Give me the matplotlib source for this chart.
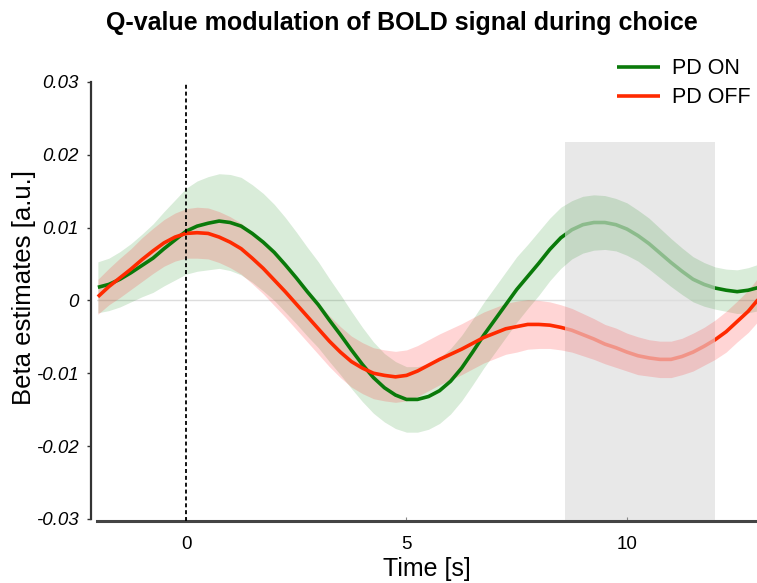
import matplotlib
matplotlib.use("Agg")
import matplotlib.pyplot as plt
from matplotlib.patches import Rectangle
import numpy as np

plt.rcParams['font.family'] = ['Liberation Sans', 'DejaVu Sans']

# ---- data (every 0.25 s) ----
time_s = [-2.0, -1.75, -1.5, -1.25, -1.0, -0.75, -0.5, -0.25,
          0.0, 0.25, 0.5, 0.75, 1.0, 1.25, 1.5, 1.75,
          2.0, 2.25, 2.5, 2.75, 3.0, 3.25, 3.5, 3.75,
          4.0, 4.25, 4.5, 4.75, 5.0, 5.25, 5.5, 5.75,
          6.0, 6.25, 6.5, 6.75, 7.0, 7.25, 7.5, 7.75,
          8.0, 8.25, 8.5, 8.75, 9.0, 9.25, 9.5, 9.75,
          10.0, 10.25, 10.5, 10.75, 11.0, 11.25, 11.5, 11.75,
          12.0, 12.25, 12.5, 12.75, 13.0]
pd_on = [0.0018, 0.0022, 0.0029, 0.0038, 0.0048, 0.0058, 0.0071, 0.0083,
         0.0095, 0.0102, 0.0106, 0.0109, 0.0107, 0.0102, 0.0092, 0.0080,
         0.0066, 0.0049, 0.0031, 0.0012, -0.0006, -0.0027, -0.0047, -0.0068,
         -0.0088, -0.0106, -0.0120, -0.0130, -0.0136, -0.0136, -0.0132, -0.0124,
         -0.0111, -0.0093, -0.0071, -0.0048, -0.0027, -0.0006, 0.0015, 0.0033,
         0.0051, 0.0070, 0.0086, 0.0097, 0.0104, 0.0107, 0.0107, 0.0104,
         0.0098, 0.0089, 0.0078, 0.0065, 0.0052, 0.0040, 0.0029, 0.0022,
         0.0017, 0.0014, 0.0012, 0.0014, 0.0018]
pd_on_err = [0.0035, 0.0036, 0.0038, 0.0040, 0.0043, 0.0047, 0.0051, 0.0055,
             0.0059, 0.0062, 0.0064, 0.0065, 0.0066, 0.0067, 0.0067, 0.0067,
             0.0066, 0.0065, 0.0063, 0.0061, 0.0059, 0.0057, 0.0055, 0.0053,
             0.0051, 0.0049, 0.0047, 0.0046, 0.0045, 0.0045, 0.0045, 0.0045,
             0.0045, 0.0045, 0.0045, 0.0045, 0.0045, 0.0045, 0.0045, 0.0044,
             0.0044, 0.0043, 0.0042, 0.0040, 0.0039, 0.0038, 0.0037, 0.0036,
             0.0036, 0.0035, 0.0035, 0.0034, 0.0033, 0.0032, 0.0031, 0.0030,
             0.0029, 0.0029, 0.0030, 0.0031, 0.0032]
pd_off = [0.0005, 0.0019, 0.0031, 0.0043, 0.0056, 0.0068, 0.0079, 0.0087,
          0.0092, 0.0093, 0.0092, 0.0087, 0.0080, 0.0071, 0.0058, 0.0044,
          0.0028, 0.0012, -0.0005, -0.0022, -0.0039, -0.0056, -0.0071, -0.0084,
          -0.0093, -0.0100, -0.0103, -0.0105, -0.0103, -0.0097, -0.0089, -0.0081,
          -0.0074, -0.0067, -0.0059, -0.0051, -0.0045, -0.0039, -0.0036, -0.0033,
          -0.0033, -0.0034, -0.0037, -0.0041, -0.0047, -0.0053, -0.0060, -0.0065,
          -0.0071, -0.0076, -0.0079, -0.0081, -0.0081, -0.0077, -0.0071, -0.0063,
          -0.0054, -0.0043, -0.0029, -0.0015, 0.0003]
pd_off_err = [0.0024, 0.0025, 0.0027, 0.0028, 0.0030, 0.0031, 0.0032, 0.0033,
              0.0034, 0.0035, 0.0035, 0.0035, 0.0035, 0.0035, 0.0035, 0.0035,
              0.0035, 0.0035, 0.0035, 0.0035, 0.0035, 0.0035, 0.0035, 0.0035,
              0.0035, 0.0035, 0.0035, 0.0035, 0.0035, 0.0035, 0.0035, 0.0035,
              0.0035, 0.0035, 0.0035, 0.0035, 0.0035, 0.0035, 0.0035, 0.0034,
              0.0033, 0.0032, 0.0031, 0.0030, 0.0029, 0.0028, 0.0027, 0.0027,
              0.0026, 0.0026, 0.0025, 0.0025, 0.0025, 0.0025, 0.0026, 0.0026,
              0.0027, 0.0028, 0.0028, 0.0029, 0.0030]
window = [8.6, 12.0]
window_top = 0.0218
series_labels = ['PD ON', 'PD OFF']
y_ticks = [0.03, 0.02, 0.01, 0, -0.01, -0.02, -0.03]
y_ticklabels = ['0.03', '0.02', '0.01', '0', '-0.01', '-0.02', '-0.03']
x_ticks = [0, 5, 10]

green = '#0a7a0a'
red = '#ff2a00'

fig = plt.figure(figsize=(7.57, 5.83), dpi=100)
ax = fig.add_axes([97/757, 62/583, 660/757, 439/583])

t = np.array(time_s)
on = np.array(pd_on); on_e = np.array(pd_on_err)
off = np.array(pd_off); off_e = np.array(pd_off_err)

# grey analysis window
ax.add_patch(Rectangle((window[0], -0.0303), window[1] - window[0], window_top + 0.0303,
                       facecolor='#e8e8e8', edgecolor='none', zorder=0))
ax.axhline(0, color='#dddddd', lw=1, zorder=0.5)

ax.fill_between(t, on - on_e, on + on_e, color='#008000', alpha=0.15, lw=0, zorder=1)
ax.fill_between(t, off - off_e, off + off_e, color='#ff3030', alpha=0.2, lw=0, zorder=1)

def draw(y, color, label, z):
    out1 = ax.plot(t, y, color=color, lw=2.6, zorder=z, label=label, solid_capstyle='butt')[0]
    out2 = ax.plot(t, y, color=color, lw=2.6, zorder=z, solid_capstyle='butt')[0]
    inn = ax.plot(t, y, color=color, lw=2.6, alpha=0.3, zorder=z, solid_capstyle='butt')[0]
    out1.set_clip_path(Rectangle((-10, -1), window[0] + 10, 2, transform=ax.transData))
    out2.set_clip_path(Rectangle((window[1], -1), 20, 2, transform=ax.transData))
    inn.set_clip_path(Rectangle((window[0], -1), window[1] - window[0], 2, transform=ax.transData))

draw(on, green, series_labels[0], 3)
draw(off, red, series_labels[1], 4)

ax.axvline(0, color='black', lw=1.3, ls=(0, (2.2, 1.6)), zorder=5)

ax.set_xlim(-2.02, 12.95)
ax.set_ylim(-0.0303, 0.03)

for s in ['top', 'right']:
    ax.spines[s].set_visible(False)
ax.spines['left'].set_position(('outward', 4))
ax.spines['left'].set_bounds(-0.03, 0.03)
ax.spines['left'].set_linewidth(1.6)
ax.spines['left'].set_color('#333333')
ax.spines['bottom'].set_linewidth(2.2)
ax.spines['bottom'].set_color('#444444')

ax.set_yticks(y_ticks)
ax.set_yticklabels(y_ticklabels, fontstyle='italic', fontsize=13.5)
ax.set_xticks(x_ticks)
ax.set_xticklabels([str(v) for v in x_ticks], fontsize=13.5)
ax.tick_params(axis='y', length=3, width=1, pad=6, color='#333333')
ax.tick_params(axis='x', length=3, width=0.8, direction='in', pad=11, color='#888888')

ax.set_xlabel('Time [s]', fontsize=18, labelpad=3)
ax.set_ylabel('Beta estimates [a.u.]', fontsize=18.5, labelpad=0)
ax.yaxis.label.set_y(0.533)

fig.text(0.531, 0.960, 'Q-value modulation of BOLD signal during choice',
         fontsize=18, fontweight='bold', ha='center', va='center')

leg = ax.legend(loc='upper right', bbox_to_anchor=(1.003, 1.074), frameon=False,
                fontsize=15.5, handlelength=2.0, handletextpad=0.55, labelspacing=0.38,
                borderaxespad=0.0)

fig.savefig('out.png', dpi=100)
